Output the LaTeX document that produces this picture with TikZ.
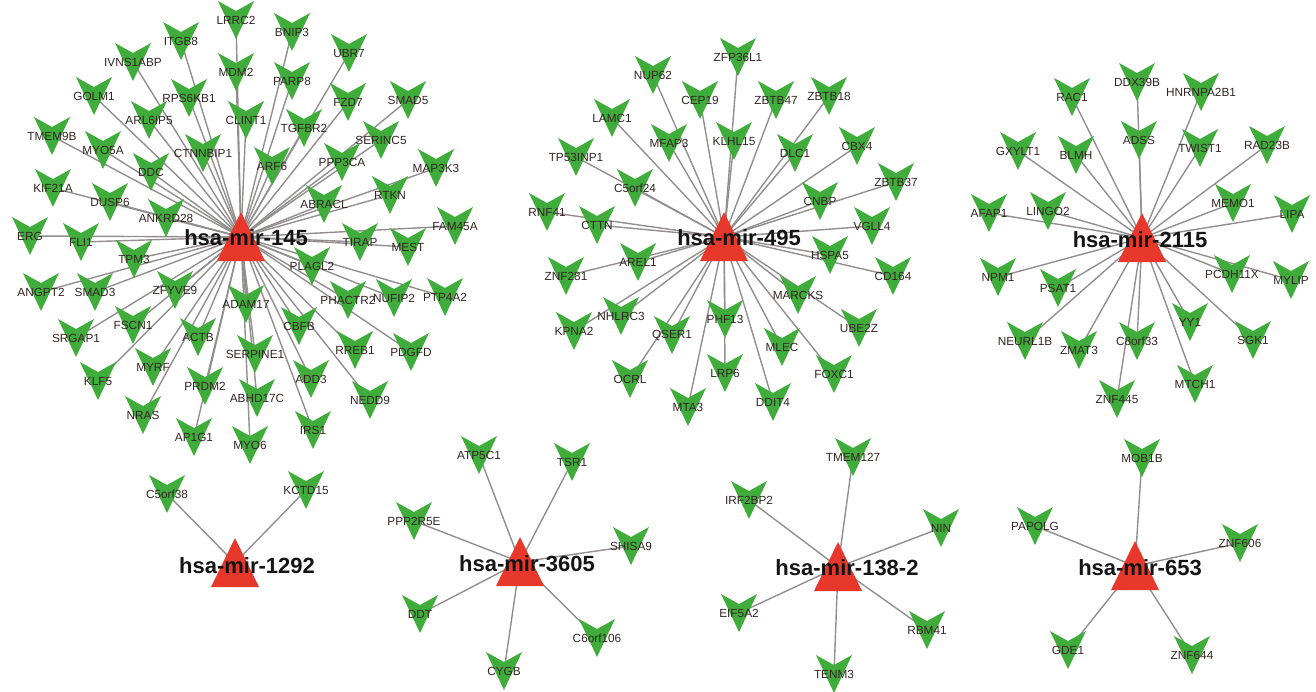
\documentclass[tikz,border=0pt]{standalone}
\usepackage{fontspec}
\setmainfont{Liberation Sans}
\pgfdeclarelayer{bg}
\pgfsetlayers{bg,main}
\definecolor{vgreen}{RGB}{64,172,60}
\definecolor{hred}{RGB}{232,56,44}
\definecolor{egray}{RGB}{146,142,142}
\definecolor{ltext}{RGB}{52,36,36}
\tikzset{
  vfill/.style={fill=vgreen},
  glabel/.style={inner sep=0pt, text=ltext, font=\fontsize{11.8}{12}\selectfont},
  hlabel/.style={inner sep=0pt, text=black!92, font=\bfseries\fontsize{22}{24}\selectfont},
  edge/.style={draw=egray, line width=1.4pt},
  hubtri/.style={fill=hred}
}
\newcommand\gn[4]{%
  \fill[vfill,shift={(#2,#3)}] (-18,-19) -- (0,-9) -- (18,-19) -- (0,19) -- cycle;
  \node[glabel] (#1) at (#2,#3) {#4};}
\newcommand\hubtri[3]{%
  \coordinate (#1) at (#2,#3);
  \fill[hubtri,shift={(#2,#3)}] (-24,24) -- (24,24) -- (0,-25) -- cycle;}
\begin{document}
\begin{tikzpicture}[x=1pt,y=-1pt]
\useasboundingbox (0,0) rectangle (1316,691);
% ---------------- hsa-mir-145 ----------------
\hubtri{h145}{241}{237}
\gn{LRRC2}{236}{20}{LRRC2}
\gn{ITGB8}{181}{41}{ITGB8}
\gn{IVNS1ABP}{133}{62}{IVNS1ABP}
\gn{MDM2}{236}{72}{MDM2}
\gn{GOLM1}{94}{96}{GOLM1}
\gn{RPS6KB1}{189}{98}{RPS6KB1}
\gn{ARL6IP5}{149}{120}{ARL6IP5}
\gn{CLINT1}{246}{120}{CLINT1}
\gn{TMEM9B}{52}{136}{TMEM9B}
\gn{MYO5A}{103}{150}{MYO5A}
\gn{CTNNBIP1}{203}{153}{CTNNBIP1}
\gn{DDC}{151}{172}{DDC}
\gn{KIF21A}{53}{188}{KIF21A}
\gn{DUSP6}{110}{202}{DUSP6}
\gn{ANKRD28}{166}{218}{ANKRD28}
\gn{BNIP3}{292}{32}{BNIP3}
\gn{UBR7}{349}{53}{UBR7}
\gn{PARP8}{292}{81}{PARP8}
\gn{FZD7}{348}{102}{FZD7}
\gn{SMAD5}{408}{100}{SMAD5}
\gn{TGFBR2}{304}{128}{TGFBR2}
\gn{SERINC5}{381}{140}{SERINC5}
\gn{ARF6}{272}{166}{ARF6}
\gn{PPP3CA}{342}{162}{PPP3CA}
\gn{MAP3K3}{436}{168}{MAP3K3}
\gn{RTKN}{390}{195}{RTKN}
\gn{ABRACL}{324}{204}{ABRACL}
\gn{FAM45A}{455}{226}{FAM45A}
\gn{ERG}{30}{236}{ERG}
\gn{FLI1}{81}{242}{FLI1}
\gn{TPM3}{134}{259}{TPM3}
\gn{ANGPT2}{41}{292}{ANGPT2}
\gn{SMAD3}{95}{292}{SMAD3}
\gn{ZFYVE9}{175}{290}{ZFYVE9}
\gn{SRGAP1}{76}{338}{SRGAP1}
\gn{FSCN1}{133}{325}{FSCN1}
\gn{ACTB}{198}{337}{ACTB}
\gn{MYRF}{153}{367}{MYRF}
\gn{KLF5}{98}{381}{KLF5}
\gn{PRDM2}{205}{386}{PRDM2}
\gn{NRAS}{143}{415}{NRAS}
\gn{AP1G1}{194}{437}{AP1G1}
\gn{TIRAP}{360}{242}{TIRAP}
\gn{MEST}{408}{247}{MEST}
\gn{PLAGL2}{312}{266}{PLAGL2}
\gn{ADAM17}{246}{304}{ADAM17}
\gn{PHACTR2}{348}{300}{PHACTR2}
\gn{NUFIP2}{394}{298}{NUFIP2}
\gn{PTP4A2}{445}{297}{PTP4A2}
\gn{CBFB}{299}{326}{CBFB}
\gn{SERPINE1}{255}{354}{SERPINE1}
\gn{RREB1}{355}{350}{RREB1}
\gn{PDGFD}{411}{352}{PDGFD}
\gn{ADD3}{311}{379}{ADD3}
\gn{ABHD17C}{257}{398}{ABHD17C}
\gn{NEDD9}{370}{400}{NEDD9}
\gn{IRS1}{313}{430}{IRS1}
\gn{MYO6}{250}{445}{MYO6}
\node[hlabel] (l145) at (246,238) {hsa-mir-145};
% ---------------- hsa-mir-495 ----------------
\hubtri{h495}{724}{237}
\gn{ZFP36L1}{738}{57}{ZFP36L1}
\gn{NUP62}{653}{75}{NUP62}
\gn{CEP19}{700}{100}{CEP19}
\gn{ZBTB47}{776}{100}{ZBTB47}
\gn{ZBTB18}{829}{96}{ZBTB18}
\gn{LAMC1}{612}{118}{LAMC1}
\gn{KLHL15}{734}{141}{KLHL15}
\gn{MFAP3}{669}{143}{MFAP3}
\gn{DLC1}{795}{153}{DLC1}
\gn{CBX4}{857}{146}{CBX4}
\gn{TP53INP1}{576}{157}{TP53INP1}
\gn{C5orf24}{635}{188}{C5orf24}
\gn{ZBTB37}{896}{182}{ZBTB37}
\gn{CNBP}{820}{201}{CNBP}
\gn{RNF41}{547}{212}{RNF41}
\gn{CTTN}{597}{225}{CTTN}
\gn{VGLL4}{872}{226}{VGLL4}
\gn{AREL1}{638}{262}{AREL1}
\gn{HSPA5}{830}{255}{HSPA5}
\gn{ZNF281}{566}{276}{ZNF281}
\gn{CD164}{893}{276}{CD164}
\gn{MARCKS}{798}{295}{MARCKS}
\gn{NHLRC3}{621}{316}{NHLRC3}
\gn{KPNA2}{574}{331}{KPNA2}
\gn{QSER1}{672}{335}{QSER1}
\gn{PHF13}{725}{319}{PHF13}
\gn{UBE2Z}{859}{328}{UBE2Z}
\gn{MLEC}{782}{347}{MLEC}
\gn{OCRL}{630}{379}{OCRL}
\gn{LRP6}{725}{373}{LRP6}
\gn{FOXC1}{834}{374}{FOXC1}
\gn{MTA3}{688}{407}{MTA3}
\gn{DDIT4}{773}{402}{DDIT4}
\node[hlabel] (l495) at (739,238) {hsa-mir-495};
% ---------------- hsa-mir-2115 ----------------
\hubtri{h2115}{1142}{238}
\gn{RAC1}{1072}{97}{RAC1}
\gn{DDX39B}{1137}{82}{DDX39B}
\gn{HNRNPA2B1}{1201}{92}{HNRNPA2B1}
\gn{GXYLT1}{1018}{151}{GXYLT1}
\gn{BLMH}{1076}{155}{BLMH}
\gn{ADSS}{1139}{140}{ADSS}
\gn{TWIST1}{1200}{148}{TWIST1}
\gn{RAD23B}{1267}{145}{RAD23B}
\gn{AFAP1}{989}{213}{AFAP1}
\gn{LINGO2}{1048}{211}{LINGO2}
\gn{MEMO1}{1233}{203}{MEMO1}
\gn{LIPA}{1292}{214}{LIPA}
\gn{NPM1}{998}{277}{NPM1}
\gn{PSAT1}{1058}{288}{PSAT1}
\gn{PCDH11X}{1232}{274}{PCDH11X}
\gn{MYLIP}{1291}{280}{MYLIP}
\gn{YY1}{1190}{322}{YY1}
\gn{NEURL1B}{1025}{341}{NEURL1B}
\gn{ZMAT3}{1079}{350}{ZMAT3}
\gn{C8orf33}{1137}{341}{C8orf33}
\gn{SGK1}{1253}{340}{SGK1}
\gn{ZNF445}{1117}{399}{ZNF445}
\gn{MTCH1}{1195}{384}{MTCH1}
\node[hlabel] (l2115) at (1140,240) {hsa-mir-2115};
% ---------------- hsa-mir-1292 ----------------
\hubtri{h1292}{235}{563}
\gn{C5orf38}{167}{494}{C5orf38}
\gn{KCTD15}{306}{490}{KCTD15}
\node[hlabel] (l1292) at (247,566) {hsa-mir-1292};
% ---------------- hsa-mir-3605 ----------------
\hubtri{h3605}{520}{562}
\gn{ATP5C1}{479}{455}{ATP5C1}
\gn{TSR1}{572}{462}{TSR1}
\gn{PPP2R5E}{414}{521}{PPP2R5E}
\gn{SHISA9}{631}{546}{SHISA9}
\gn{DDT}{420}{614}{DDT}
\gn{C6orf106}{597}{638}{C6orf106}
\gn{CYGB}{504}{671}{CYGB}
\node[hlabel] (l3605) at (527,564) {hsa-mir-3605};
% ---------------- hsa-mir-138-2 ----------------
\hubtri{h1382}{838}{567}
\gn{TMEM127}{853}{457}{TMEM127}
\gn{IRF2BP2}{749}{500}{IRF2BP2}
\gn{NIN}{941}{528}{NIN}
\gn{EIF5A2}{739}{613}{EIF5A2}
\gn{RBM41}{927}{630}{RBM41}
\gn{TENM3}{834}{674}{TENM3}
\node[hlabel] (l1382) at (847,568) {hsa-mir-138-2};
% ---------------- hsa-mir-653 ----------------
\hubtri{h653}{1135}{566}
\gn{MOB1B}{1142}{458}{MOB1B}
\gn{PAPOLG}{1035}{526}{PAPOLG}
\gn{ZNF606}{1240}{543}{ZNF606}
\gn{GDE1}{1068}{650}{GDE1}
\gn{ZNF644}{1192}{655}{ZNF644}
\node[hlabel] (l653) at (1140,568) {hsa-mir-653};
% ---------------- edges ----------------
\begin{pgfonlayer}{bg}
\foreach \g in {LRRC2,ITGB8,IVNS1ABP,MDM2,GOLM1,RPS6KB1,ARL6IP5,CLINT1,TMEM9B,MYO5A,CTNNBIP1,DDC,KIF21A,DUSP6,ANKRD28,BNIP3,UBR7,PARP8,FZD7,SMAD5,TGFBR2,SERINC5,ARF6,PPP3CA,MAP3K3,RTKN,ABRACL,FAM45A,ERG,FLI1,TPM3,ANGPT2,SMAD3,ZFYVE9,SRGAP1,FSCN1,ACTB,MYRF,KLF5,PRDM2,NRAS,AP1G1,TIRAP,MEST,PLAGL2,ADAM17,PHACTR2,NUFIP2,PTP4A2,CBFB,SERPINE1,RREB1,PDGFD,ADD3,ABHD17C,NEDD9,IRS1,MYO6}
  \draw[edge] (\g.center) -- (h145);
\foreach \g in {ZFP36L1,NUP62,CEP19,ZBTB47,ZBTB18,LAMC1,KLHL15,MFAP3,DLC1,CBX4,TP53INP1,C5orf24,ZBTB37,CNBP,RNF41,CTTN,VGLL4,AREL1,HSPA5,ZNF281,CD164,MARCKS,NHLRC3,KPNA2,QSER1,PHF13,UBE2Z,MLEC,OCRL,LRP6,FOXC1,MTA3,DDIT4}
  \draw[edge] (\g.center) -- (h495);
\foreach \g in {RAC1,DDX39B,HNRNPA2B1,GXYLT1,BLMH,ADSS,TWIST1,RAD23B,AFAP1,LINGO2,MEMO1,LIPA,NPM1,PSAT1,PCDH11X,MYLIP,YY1,NEURL1B,ZMAT3,C8orf33,SGK1,ZNF445,MTCH1}
  \draw[edge] (\g.center) -- (h2115);
\foreach \g in {C5orf38,KCTD15}
  \draw[edge] (\g.center) -- (h1292);
\foreach \g in {ATP5C1,TSR1,PPP2R5E,SHISA9,DDT,C6orf106,CYGB}
  \draw[edge] (\g.center) -- (h3605);
\foreach \g in {TMEM127,IRF2BP2,NIN,EIF5A2,RBM41,TENM3}
  \draw[edge] (\g.center) -- (h1382);
\foreach \g in {MOB1B,PAPOLG,ZNF606,GDE1,ZNF644}
  \draw[edge] (\g.center) -- (h653);
\end{pgfonlayer}
\end{tikzpicture}
\end{document}
